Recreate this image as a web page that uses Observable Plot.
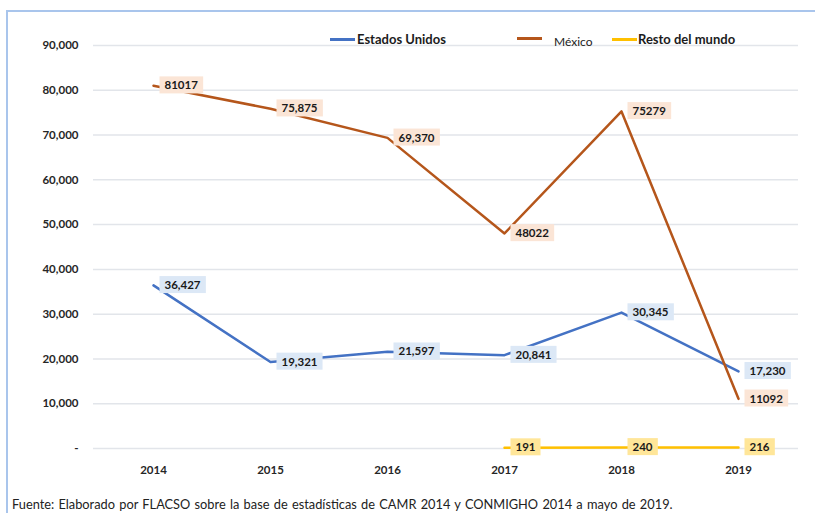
<!DOCTYPE html>
<html><head><meta charset="utf-8">
<script src="https://cdn.jsdelivr.net/npm/d3@7"></script>
<script src="https://cdn.jsdelivr.net/npm/@observablehq/plot@0.6"></script>
<style>
body{margin:0;background:#fff;font-family:Lato,"Open Sans",sans-serif;}
#wrap{position:relative;width:815px;height:513px;overflow:hidden;background:#fff;}
#frame{position:absolute;left:6px;top:10px;width:830px;height:530px;border-top:2px solid #a9c5ec;border-left:2px solid #a9c5ec;box-sizing:border-box;}
#chart{position:absolute;left:0;top:0;}
.lg{position:absolute;display:flex;align-items:center;font-size:13px;font-weight:bold;color:#1c1c1c;white-space:nowrap;}
.sw{display:inline-block;width:25px;height:3px;margin-right:2px;}
#caption{position:absolute;left:12px;top:496px;font-size:12.8px;word-spacing:1px;color:#222;white-space:nowrap;}
</style></head>
<body>
<div id="wrap">
  <div id="frame"></div>
  <div id="chart"></div>
  <div class="lg" style="left:330px;top:31px;"><span class="sw" style="background:#4472c4"></span><span id="lg0"></span></div>
  <div class="lg" style="left:517px;top:31px;"><span class="sw" style="background:#b5561b;margin-right:12px"></span><span id="lg1" style="font-weight:normal;font-size:12px;position:relative;top:3px"></span></div>
  <div class="lg" style="left:612px;top:31px;"><span class="sw" style="background:#ffc000;margin-right:1px"></span><span id="lg2"></span></div>
  <div id="caption"></div>
</div>
<script>
const years = ["2014","2015","2016","2017","2018","2019"];
const seriesNames = ["Estados Unidos","México","Resto del mundo"];
const usValues = [36427,19321,21597,20841,30345,17230];
const mxValues = [81017,75875,69370,48022,75279,11092];
const rmYears = ["2017","2018","2019"];
const rmValues = [191,240,216];
const usLabels = ["36,427","19,321","21,597","20,841","30,345","17,230"];
const mxLabels = ["81017","75,875","69,370","48022","75279","11092"];
const rmLabels = ["191","240","216"];
const yTicks = [0,10000,20000,30000,40000,50000,60000,70000,80000,90000];
const captionText = "Fuente: Elaborado por FLACSO sobre la base de estadísticas de CAMR 2014 y CONMIGHO 2014 a mayo de 2019.";

const us = years.map((y,i)=>({year:y, value:usValues[i], label:usLabels[i]}));
const mx = years.map((y,i)=>({year:y, value:mxValues[i], label:mxLabels[i]}));
const rm = rmYears.map((y,i)=>({year:y, value:rmValues[i], label:rmLabels[i]}));

document.getElementById("lg0").textContent = seriesNames[0];
document.getElementById("lg1").textContent = seriesNames[1];
document.getElementById("lg2").textContent = seriesNames[2];
document.getElementById("caption").textContent = captionText;

const colors = {us:"#4472c4", mx:"#b5561b", rm:"#ffc000"};
const fills = {us:"#dce8f6", mx:"#fbe5d6", rm:"#ffe699"};
const fmt = d => d === 0 ? "-" : d3.format(",")(d);

const plot = Plot.plot({
  width: 815,
  height: 490,
  marginLeft: 93,
  marginRight: 17,
  marginTop: 45,
  marginBottom: 42,
  style: {fontFamily: "Lato, 'Open Sans', sans-serif", fontSize: "11.5px", fontWeight: "bold", color: "#262626", background: "transparent", overflow: "visible"},
  x: {type: "point", domain: years, padding: 0.5},
  y: {domain: [0, 90000]},
  marks: [
    Plot.gridY(yTicks, {stroke: "#e2e5ea", strokeOpacity: 1, strokeWidth: 1.5}),
    Plot.axisY({ticks: yTicks, tickSize: 0, tickPadding: 15, tickFormat: fmt, label: null}),
    Plot.axisX({tickSize: 0, tickPadding: 17, label: null}),
    Plot.line(us, {x: "year", y: "value", stroke: colors.us, strokeWidth: 2.5}),
    Plot.line(mx, {x: "year", y: "value", stroke: colors.mx, strokeWidth: 2.5}),
    Plot.line(rm, {x: "year", y: "value", stroke: colors.rm, strokeWidth: 2.5}),
    Plot.text(us, {x: "year", y: "value", text: "label", dx: 11, textAnchor: "start", fill: "#1a1a1a", ariaDescription: "lbl-us"}),
    Plot.text(mx, {x: "year", y: "value", text: "label", dx: 11, textAnchor: "start", fill: "#1a1a1a", ariaDescription: "lbl-mx"}),
    Plot.text(rm, {x: "year", y: "value", text: "label", dx: 11, textAnchor: "start", fill: "#1a1a1a", ariaDescription: "lbl-rm"})
  ]
});
document.getElementById("chart").appendChild(plot);

[["lbl-us", fills.us], ["lbl-mx", fills.mx], ["lbl-rm", fills.rm]].forEach(([name, fill]) => {
  const g = plot.querySelector(`g[aria-description="${name}"]`);
  if (!g) return;
  g.querySelectorAll("text").forEach(t => {
    const b = t.getBBox();
    const r = document.createElementNS("http://www.w3.org/2000/svg", "rect");
    r.setAttribute("x", b.x - 5);
    r.setAttribute("y", b.y - 2);
    r.setAttribute("width", b.width + 10);
    r.setAttribute("height", b.height + 4);
    r.setAttribute("fill", fill);
    const tr = t.getAttribute("transform");
    if (tr) r.setAttribute("transform", tr);
    t.parentNode.insertBefore(r, t);
  });
});
</script>
</body></html>
